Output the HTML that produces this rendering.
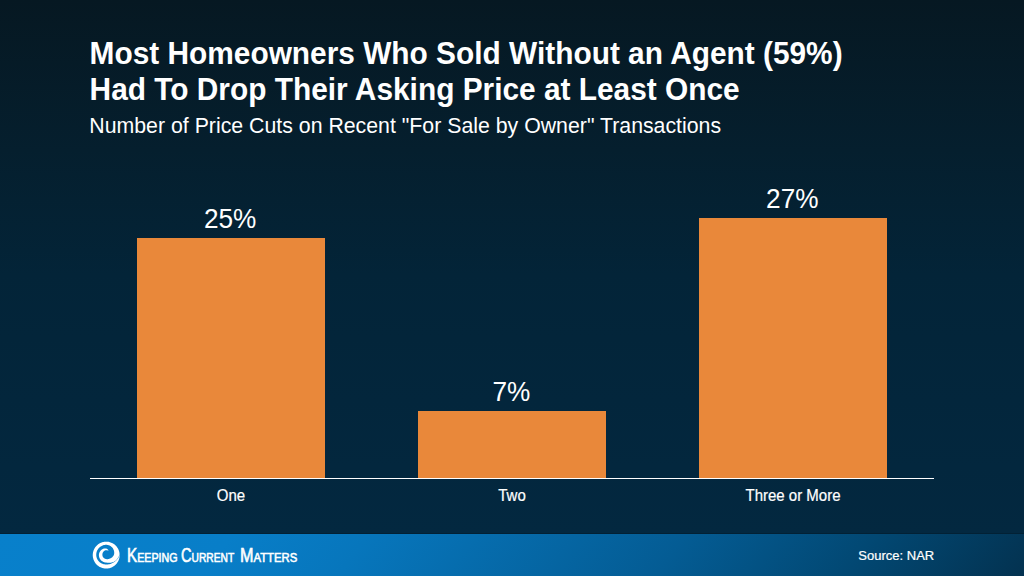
<!DOCTYPE html>
<html>
<head>
<meta charset="utf-8">
<style>
*{margin:0;padding:0;box-sizing:border-box}
html,body{width:1024px;height:576px;overflow:hidden}
body{position:relative;font-family:"Liberation Sans",sans-serif;color:#fff;
background:linear-gradient(180deg,rgb(6,24,34) 0px,rgb(5,31,46) 150px,rgb(3,36,56) 275px,rgb(3,38,60) 400px,rgb(3,40,64) 534px)}
.t{position:absolute;white-space:nowrap;line-height:1}
.b{font-weight:bold;font-size:29.85px;left:89.6px;transform:scaleY(1.03);transform-origin:0 25.4px}
#sub{left:89.3px;top:116.2px;font-size:21.3px;transform:scaleY(1.03);transform-origin:0 18px}
.bar{position:absolute;background:#e9883a;width:188px}
.lbl{font-size:26.2px;text-align:center;width:188px;transform:scaleY(1.05);transform-origin:0 22.2px}
.cat{-webkit-text-stroke:0.2px #fff;font-size:15px;text-align:center;width:188px;top:488.1px;transform:scaleY(1.07);transform-origin:0 12.7px}
#axis{position:absolute;left:90px;top:477.6px;width:844px;height:1.8px;background:#fff}
#foot{position:absolute;left:0;top:534px;width:1024px;height:42px;
background:linear-gradient(128deg,rgb(8,128,203) 0%,rgb(8,126,200) 22%,rgb(7,118,188) 35%,rgb(4,92,148) 65%,rgb(2,72,115) 83%,rgb(3,50,80) 100%)}
#fline{position:absolute;left:0;top:533px;width:1024px;height:1px;background:rgb(2,33,53)}
#src{right:89.8px;top:549px;font-size:13px;-webkit-text-stroke:0.2px #fff}
.kcm{top:545.5px;font-size:19.3px;font-weight:normal;-webkit-text-stroke:0.6px #fff;transform-origin:0 0}
.sc{font-size:13.5px}
</style>
</head>
<body>
<div class="t b" style="top:38.5px">Most Homeowners Who Sold Without an Agent (59%)</div>
<div class="t b" style="top:74.8px">Had To Drop Their Asking Price at Least Once</div>
<div id="sub" class="t">Number of Price Cuts on Recent "For Sale by Owner" Transactions</div>

<div class="bar" style="left:137px;top:237.5px;height:241px"></div>
<div class="bar" style="left:418px;top:411px;height:67.5px"></div>
<div class="bar" style="left:699px;top:218px;height:260.5px"></div>

<div class="lbl t" style="left:136.2px;top:205.9px">25%</div>
<div class="lbl t" style="left:417.4px;top:378.9px">7%</div>
<div class="lbl t" style="left:698.3px;top:186.1px">27%</div>

<div id="axis"></div>

<div class="cat t" style="left:137px">One</div>
<div class="cat t" style="left:418px">Two</div>
<div class="cat t" style="left:699px">Three or More</div>

<div id="fline"></div>
<div id="foot"></div>
<svg style="position:absolute;left:88px;top:538px" width="36" height="36" viewBox="88 538 36 36">
<path fill="#fff" d="M108.50,550.77 L108.38,550.42 L108.23,550.08 L108.04,549.77 L107.81,549.49 L107.55,549.24 L107.27,549.00 L106.97,548.80 L106.65,548.64 L106.31,548.52 L105.97,548.47 L105.62,548.43 L105.26,548.42 L104.90,548.44 L104.55,548.47 L104.19,548.53 L103.84,548.62 L103.49,548.72 L103.15,548.84 L102.81,548.99 L102.48,549.15 L102.17,549.34 L101.86,549.54 L101.56,549.76 L101.27,550.00 L101.00,550.25 L100.74,550.52 L100.49,550.80 L100.26,551.09 L100.04,551.40 L99.84,551.72 L99.65,552.05 L99.49,552.39 L99.34,552.74 L99.22,553.10 L99.11,553.46 L99.02,553.83 L98.96,554.21 L98.92,554.59 L98.90,554.97 L98.90,555.35 L98.93,555.74 L98.97,556.12 L99.03,556.49 L99.12,556.87 L99.22,557.23 L99.34,557.60 L99.48,557.95 L99.64,558.30 L99.82,558.64 L100.01,558.97 L100.22,559.29 L100.45,559.59 L100.69,559.89 L100.95,560.17 L101.22,560.44 L101.51,560.69 L101.80,560.94 L102.11,561.16 L102.43,561.37 L102.76,561.57 L103.10,561.75 L103.45,561.92 L103.80,562.07 L104.16,562.20 L104.53,562.31 L104.91,562.41 L105.29,562.49 L105.68,562.55 L106.07,562.59 L106.46,562.62 L106.86,562.66 L107.27,562.71 L107.69,562.75 L108.12,562.80 L108.56,562.83 L109.02,562.85 L109.49,562.84 L109.96,562.81 L110.44,562.75 L110.92,562.66 L111.42,562.55 L111.92,562.42 L112.43,562.27 L112.95,562.09 L113.47,561.88 L113.99,561.63 L114.50,561.35 L115.00,561.03 L115.48,560.68 L115.95,560.28 L116.39,559.85 L116.82,559.39 L117.23,558.90 L117.61,558.37 L117.97,557.82 L118.31,557.24 L118.64,556.63 L118.95,555.99 L119.21,555.33 L119.39,554.64 L119.51,553.94 L119.52,553.23 L119.40,552.53 L119.25,551.85 L119.06,551.17 L118.84,550.50 L118.58,549.84 L118.29,549.20 L117.96,548.58 L117.61,547.97 L117.22,547.39 L116.80,546.82 L116.35,546.28 L115.88,545.76 L115.37,545.26 L114.85,544.80 L114.29,544.36 L113.72,543.95 L113.13,543.57 L112.51,543.22 L111.88,542.91 L111.24,542.63 L110.58,542.38 L109.91,542.17 L109.23,541.99 L108.54,541.85 L107.84,541.75 L107.14,541.68 L106.43,541.65 L105.73,541.66 L105.03,541.70 L104.33,541.78 L103.63,541.90 L102.95,542.05 L102.27,542.24 L101.60,542.46 L100.94,542.72 L100.30,543.01 L99.68,543.34 L99.07,543.69 L98.49,544.08 L97.92,544.50 L97.38,544.95 L96.86,545.42 L96.36,545.93 L95.90,546.45 L95.46,547.01 L95.05,547.58 L94.67,548.17 L94.32,548.79 L94.01,549.42 L93.73,550.06 L93.48,550.72 L93.27,551.39 L93.09,552.07 L92.95,552.76 L92.85,553.46 L92.78,554.16 L92.75,554.87 L92.76,555.57 L92.80,556.27 L92.88,556.97 L93.00,557.67 L93.15,558.35 L93.34,559.03 L93.56,559.70 L93.82,560.36 L94.11,561.00 L94.44,561.62 L94.79,562.23 L95.18,562.81 L95.60,563.38 L96.05,563.92 L96.52,564.44 L97.03,564.94 L97.55,565.40 L98.11,565.84 L98.68,566.25 L99.27,566.63 L99.89,566.98 L100.52,567.29 L101.16,567.57 L101.82,567.82 L102.49,568.03 L103.17,568.21 L103.86,568.35 L104.56,568.45 L105.26,568.52 L105.97,568.55 L106.67,568.54 L107.37,568.50 L108.07,568.42 L108.77,568.30 L109.45,568.15 L110.13,567.96 L110.80,567.74 L111.46,567.48 L112.10,567.19 L112.72,566.86 L113.33,566.51 L113.91,566.12 L114.48,565.70 L115.02,565.25 L115.54,564.78 L116.04,564.27 L116.50,563.75 L116.94,563.19 L117.35,562.62 L117.73,562.03 L118.08,561.41 L118.39,560.78 L118.67,560.14 L118.92,559.48 L119.13,558.81 L119.31,558.13 L119.45,557.44 L119.55,556.74 L119.62,556.04 L119.65,555.33 L119.64,554.63 L119.60,553.93 L119.56,553.93 L119.48,554.64 L119.36,555.33 L119.18,556.01 L118.96,556.67 L118.69,557.30 L118.35,557.91 L117.97,558.47 L117.54,559.01 L117.10,559.50 L116.65,559.97 L116.19,560.41 L115.75,560.84 L115.31,561.24 L114.84,561.61 L114.38,561.96 L113.90,562.28 L113.42,562.57 L112.93,562.84 L112.45,563.09 L111.96,563.33 L111.47,563.54 L110.99,563.74 L110.50,563.91 L110.00,564.06 L109.51,564.18 L109.01,564.28 L108.51,564.36 L108.01,564.42 L107.52,564.46 L107.02,564.48 L106.53,564.50 L106.04,564.50 L105.54,564.48 L105.05,564.44 L104.57,564.37 L104.08,564.28 L103.60,564.17 L103.12,564.03 L102.66,563.87 L102.19,563.69 L101.74,563.49 L101.30,563.26 L100.87,563.01 L100.45,562.73 L100.04,562.44 L99.65,562.13 L99.27,561.79 L98.91,561.43 L98.57,561.06 L98.25,560.67 L97.95,560.25 L97.67,559.83 L97.41,559.39 L97.18,558.93 L96.97,558.46 L96.78,557.98 L96.63,557.49 L96.49,556.99 L96.39,556.48 L96.31,555.96 L96.27,555.45 L96.25,554.93 L96.25,554.40 L96.29,553.88 L96.35,553.36 L96.44,552.85 L96.56,552.34 L96.70,551.83 L96.87,551.33 L97.07,550.84 L97.29,550.36 L97.53,549.89 L97.81,549.44 L98.10,549.00 L98.42,548.57 L98.76,548.16 L99.13,547.77 L99.51,547.40 L99.91,547.05 L100.34,546.73 L100.78,546.42 L101.23,546.14 L101.70,545.88 L102.19,545.65 L102.69,545.45 L103.19,545.27 L103.71,545.12 L104.24,545.00 L104.77,544.90 L105.30,544.84 L105.84,544.81 L106.38,544.80 L106.92,544.84 L107.45,544.91 L107.98,545.02 L108.49,545.16 L109.00,545.34 L109.49,545.54 L109.97,545.78 L110.42,546.04 L110.87,546.33 L111.29,546.63 L111.69,546.97 L112.06,547.33 L112.40,547.72 L112.71,548.12 L112.99,548.55 L113.24,548.98 L113.46,549.43 L113.65,549.89 L113.81,550.34 L113.95,550.80 L114.06,551.26 L114.15,551.73 L114.20,552.19 L114.23,552.65 L114.22,553.10 L114.19,553.55 L114.12,553.99 L114.03,554.42 L113.90,554.83 L113.74,555.23 L113.54,555.61 L113.29,555.97 L113.03,556.30 L112.75,556.61 L112.49,556.90 L112.21,557.17 L111.92,557.41 L111.63,557.63 L111.33,557.83 L111.03,558.00 L110.74,558.16 L110.45,558.31 L110.17,558.44 L109.91,558.56 L109.65,558.67 L109.40,558.78 L109.14,558.87 L108.89,558.95 L108.64,559.01 L108.40,559.07 L108.15,559.11 L107.91,559.14 L107.68,559.16 L107.45,559.17 L107.22,559.18 L106.99,559.17 L106.77,559.16 L106.55,559.14 L106.34,559.12 L106.13,559.09 L105.92,559.05 L105.72,559.00 L105.52,558.94 L105.33,558.87 L105.14,558.80 L104.96,558.71 L104.78,558.62 L104.60,558.52 L104.44,558.42 L104.27,558.30 L104.12,558.19 L103.97,558.07 L103.82,557.94 L103.68,557.81 L103.54,557.67 L103.41,557.53 L103.28,557.38 L103.16,557.23 L103.05,557.07 L102.95,556.90 L102.86,556.73 L102.77,556.56 L102.69,556.38 L102.62,556.19 L102.56,556.01 L102.51,555.82 L102.47,555.62 L102.43,555.43 L102.41,555.23 L102.40,555.03 L102.39,554.83 L102.39,554.63 L102.39,554.43 L102.41,554.22 L102.43,554.02 L102.46,553.81 L102.49,553.60 L102.54,553.39 L102.60,553.19 L102.67,552.98 L102.75,552.78 L102.85,552.57 L102.95,552.38 L103.07,552.18 L103.20,552.00 L103.34,551.81 L103.49,551.63 L103.65,551.46 L103.81,551.28 L103.99,551.12 L104.18,550.96 L104.38,550.81 L104.59,550.67 L104.81,550.55 L105.04,550.44 L105.28,550.35 L105.52,550.28 L105.77,550.23 L106.03,550.21 L106.29,550.20 L106.54,550.22 L106.79,550.26 L107.04,550.31 L107.29,550.37 L107.54,550.44 L107.78,550.51 L108.02,550.59 L108.26,550.68 L108.50,550.77Z"/>
</svg>
<div class="t kcm" style="left:126.5px;transform:scaleX(0.792)">K<span class="sc">EEPING</span></div><div class="t kcm" style="left:181.4px;transform:scaleX(0.757)">C<span class="sc">URRENT</span></div><div class="t kcm" style="left:239.7px;transform:scaleX(0.839)">M<span class="sc">ATTERS</span></div>
<div id="src" class="t">Source: NAR</div>
</body>
</html>
